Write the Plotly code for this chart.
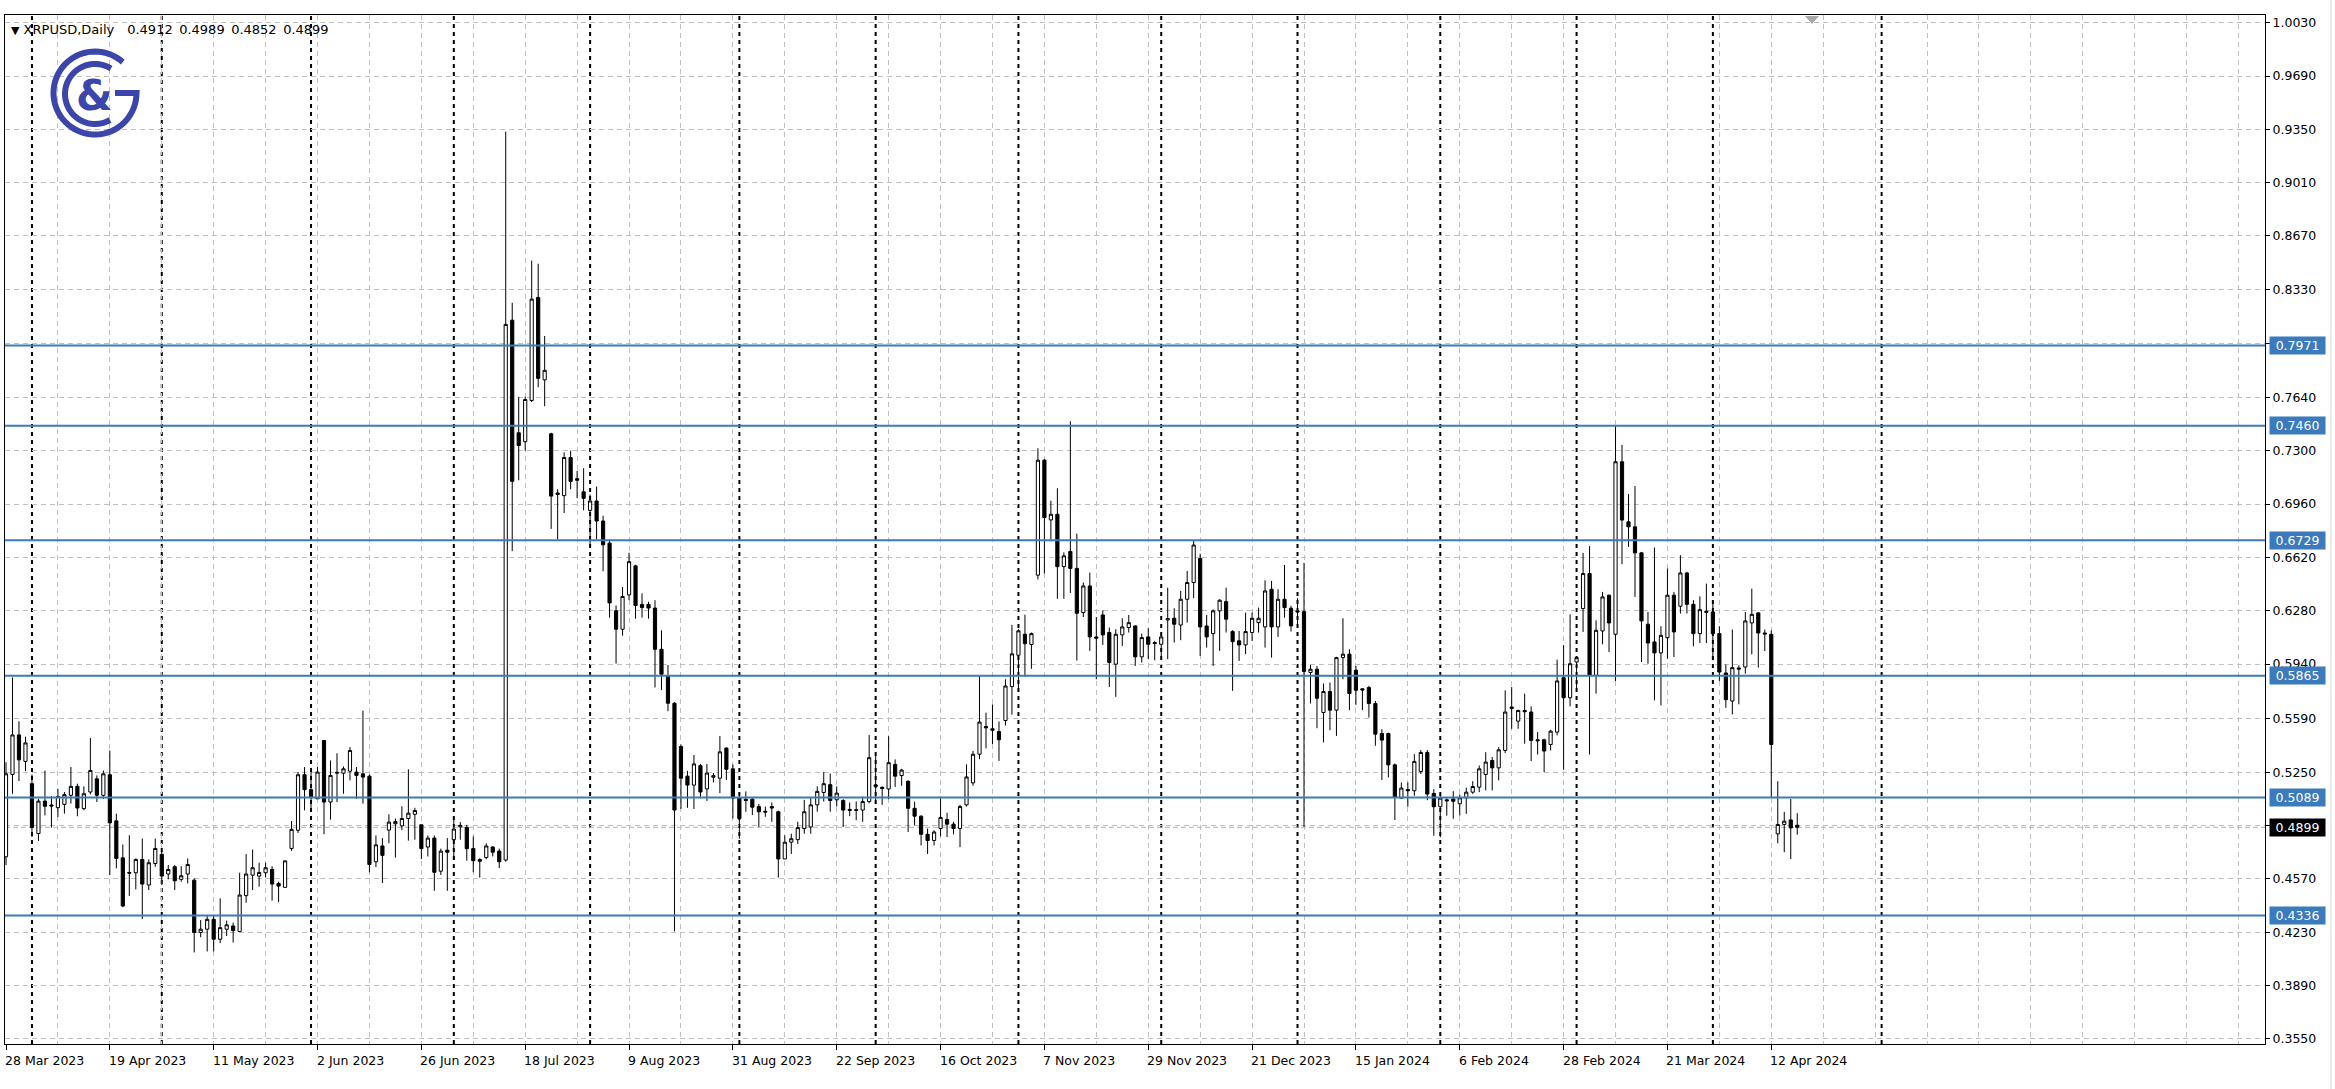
import math
import plotly.graph_objects as go

# ---------------- data (daily XRPUSD, weekday bars) ----------------
bar_index = list(range(277))

opens = [
.4711,.5236,.5488,.5319,.5177,.4859,.5066,.5041,.5024,.5045,
.5103,.5160,.5018,.5124,.5208,.5103,.5234,.4940,.4704,.4611,
.4609,.4694,.4531,.4668,.4726,.4601,.4647,.4567,.4601,.4562,
.4228,.4249,.4312,.4185,.4249,.4270,.4234,.4463,.4594,.4588,
.4609,.4630,.4541,.4516,.4764,.4880,.5234,.5139,.5081,.5452,
.5060,.5244,.5244,.5257,.5251,.5240,.5225,.4679,.4780,.4881,
.4922,.4908,.4955,.4982,.4915,.4773,.4830,.4619,.4753,.4820,
.4902,.4898,.4763,.4693,.4706,.4773,.4747,.4690,.8133,.7415,
.7358,.7621,.8278,.7752,.7408,.7031,.7014,.7257,.7122,.7038,
.6920,.6980,.6852,.6711,.6280,.6162,.6381,.6566,.6320,.6320,
.6297,.6034,.5865,.5690,.5414,.5225,.5168,.5292,.5144,.5218,
.5212,.5404,.5272,.5085,.5078,.5078,.5031,.5001,.5031,.4998,
.4697,.4804,.4820,.4891,.4901,.5042,.5121,.5171,.5074,.5070,
.5013,.5011,.5009,.5063,.5169,.5154,.5143,.5300,.5229,.5192,
.5020,.4970,.4854,.4815,.4891,.4949,.4919,.4891,.5042,.5182,
.5365,.5542,.5527,.5509,.5580,.5796,.5996,.6130,.6065,.6507,
.7240,.6859,.6895,.6561,.6658,.6550,.6268,.6438,.6113,.6253,
.6141,.5939,.6126,.6173,.6183,.5986,.6113,.6077,.6066,.6221,
.6232,.6189,.6353,.6460,.6614,.6183,.6134,.6279,.6338,.6147,
.6088,.6062,.6141,.6204,.6177,.6417,.6177,.6353,.6296,.6279,
.6274,.5886,.5907,.5631,.5765,.5646,.5981,.6003,.5901,.5782,
.5790,.5688,.5497,.5497,.5297,.5085,.5140,.5132,.5255,.5376,
.5115,.5030,.5074,.5080,.5049,.5087,.5123,.5155,.5236,.5325,
.5278,.5389,.5666,.5576,.5644,.5634,.5457,.5457,.5427,.5506,
.5853,.5725,.5953,.6294,.6517,.5868,.6151,.6379,.6130,.7230,
.6847,.6815,.6649,.6194,.6081,.6011,.6108,.6379,.6309,.6521,
.6321,.6134,.6277,.6272,.6134,.5883,.5704,.5915,.5921,.6202,
.6266,.6138,.6130,.4857,.4917,.4946,.4912]

highs = [
.5314,.5854,.5575,.5477,.5236,.5081,.5261,.5098,.5145,.5124,
.5283,.5177,.5160,.5469,.5230,.5261,.5389,.4986,.4789,.4848,
.4700,.4827,.4694,.4827,.4742,.4658,.4658,.4651,.4700,.4573,
.4308,.4340,.4340,.4446,.4304,.4291,.4609,.4728,.4757,.4673,
.4673,.4651,.4552,.4685,.4939,.5251,.5283,.5278,.5283,.5456,
.5325,.5371,.5287,.5410,.5283,.5643,.5235,.4847,.4830,.4982,
.4955,.5033,.5269,.5023,.4915,.4847,.4847,.4763,.4830,.4955,
.4932,.4915,.4841,.4702,.4797,.4780,.4763,.9335,.8244,.7644,
.7644,.8513,.8493,.8032,.7415,.7055,.7290,.7301,.7172,.7189,
.7021,.7072,.6886,.6734,.6313,.6431,.6650,.6573,.6391,.6337,
.6347,.6155,.5933,.5697,.5427,.5259,.5360,.5303,.5303,.5245,
.5481,.5408,.5300,.5117,.5128,.5091,.5048,.5031,.5057,.5005,
.4847,.4858,.4934,.5074,.5085,.5160,.5251,.5242,.5160,.5078,
.5057,.5063,.5095,.5488,.5354,.5160,.5480,.5332,.5272,.5199,
.5063,.4975,.4891,.4880,.5095,.4992,.4934,.5042,.5300,.5386,
.5865,.5630,.5682,.5574,.5843,.6190,.6162,.6255,.6141,.7316,
.7247,.6981,.7061,.6652,.7488,.6772,.6460,.6523,.6240,.6283,
.6173,.6162,.6232,.6253,.6187,.6134,.6168,.6088,.6134,.6427,
.6296,.6406,.6534,.6729,.6644,.6253,.6289,.6353,.6427,.6156,
.6151,.6268,.6268,.6300,.6474,.6470,.6417,.6572,.6311,.6360,
.6585,.5935,.5928,.5816,.5822,.5986,.6232,.6034,.5928,.5786,
.5801,.5705,.5525,.5503,.5306,.5185,.5185,.5365,.5391,.5391,
.5142,.5100,.5085,.5129,.5108,.5151,.5193,.5293,.5378,.5347,
.5410,.5772,.5793,.5649,.5751,.5670,.5506,.5464,.5521,.5968,
.6060,.6257,.5989,.6649,.6692,.6219,.6400,.6383,.7458,.7337,
.7024,.7075,.6655,.6272,.6683,.6181,.6549,.6400,.6634,.6528,
.6347,.6372,.6453,.6336,.6181,.5938,.6160,.5932,.6272,.6421,
.6272,.6160,.6155,.5193,.4997,.5080,.4989]

lows = [
.4658,.5113,.5194,.5257,.4838,.4812,.4975,.4897,.4965,.4986,
.5050,.4969,.5007,.5109,.5060,.5081,.4594,.4637,.4389,.4461,
.4503,.4313,.4499,.4647,.4531,.4567,.4499,.4552,.4541,.4101,
.4198,.4107,.4107,.4160,.4206,.4164,.4234,.4418,.4499,.4520,
.4579,.4431,.4421,.4516,.4749,.4863,.5007,.5007,.5081,.4855,
.4948,.5060,.5113,.5198,.5081,.5050,.4612,.4645,.4544,.4797,
.4706,.4881,.4814,.4820,.4696,.4713,.4494,.4595,.4494,.4696,
.4820,.4686,.4612,.4578,.4696,.4713,.4639,.4679,.6660,.7112,
.7301,.7611,.7705,.7584,.6802,.6734,.6903,.7055,.6997,.6920,
.6701,.6734,.6532,.6236,.5943,.6121,.6347,.6229,.6236,.6229,
.5791,.5774,.5639,.4235,.5016,.5023,.5016,.5084,.5067,.5185,
.5117,.5201,.4955,.4826,.4998,.4977,.4901,.4966,.4934,.4578,
.4697,.4729,.4793,.4858,.4858,.4998,.5063,.4998,.5031,.4901,
.4970,.4944,.4934,.5052,.5052,.5042,.5078,.5156,.5164,.4869,
.4912,.4783,.4729,.4783,.4841,.4837,.4854,.4772,.5031,.5164,
.5333,.5402,.5430,.5322,.5548,.5617,.5768,.5860,.5910,.6479,
.6518,.6723,.6356,.6356,.6393,.5962,.6240,.6024,.5843,.6062,
.5794,.5731,.6056,.6141,.5928,.5950,.5971,.5964,.5986,.5971,
.6077,.6092,.6204,.6360,.5992,.6045,.5928,.6024,.6141,.5769,
.5960,.6003,.6088,.6141,.6045,.5981,.6113,.6236,.6147,.6183,
.4902,.5688,.5531,.5440,.5518,.5482,.5843,.5646,.5680,.5646,
.5599,.5419,.5200,.5217,.4945,.5085,.5030,.5100,.5238,.5072,
.4845,.4835,.4973,.4953,.4974,.4985,.5112,.5123,.5134,.5134,
.5198,.5372,.5527,.5527,.5432,.5321,.5363,.5251,.5389,.5485,
.5266,.5670,.5772,.6145,.5363,.5751,.6066,.6017,.5832,.6577,
.6687,.6368,.5953,.5942,.5708,.5676,.5974,.5985,.6262,.6262,
.6053,.6074,.6074,.5964,.5832,.5661,.5619,.5683,.5879,.6002,
.5917,.6023,.5087,.4797,.4740,.4697,.4852]

closes = [
.5240,.5488,.5329,.5437,.4897,.5066,.5033,.5035,.5096,.5107,
.5160,.5022,.5113,.5261,.5103,.5240,.4927,.4700,.4397,.4607,
.4694,.4537,.4673,.4764,.4588,.4630,.4558,.4590,.4662,.4228,
.4249,.4312,.4185,.4259,.4277,.4240,.4467,.4601,.4641,.4611,
.4641,.4537,.4524,.4685,.4886,.5234,.5139,.5088,.5251,.5060,
.5230,.5249,.5272,.5389,.5230,.5219,.4662,.4787,.4720,.4932,
.4935,.4955,.4989,.5006,.4763,.4830,.4612,.4747,.4740,.4888,
.4911,.4763,.4686,.4683,.4780,.4740,.4679,.8106,.7105,.7334,
.7627,.8267,.7762,.7813,.7011,.7021,.7257,.7105,.7112,.6997,
.6980,.6852,.6701,.6330,.6162,.6371,.6593,.6313,.6300,.6297,
.6034,.5875,.5690,.5009,.5212,.5168,.5303,.5124,.5245,.5228,
.5380,.5269,.5085,.4955,.5070,.5027,.4998,.4996,.5022,.4697,
.4804,.4826,.4897,.4998,.5042,.5128,.5177,.5070,.5117,.5009,
.5007,.5007,.5063,.5343,.5160,.5147,.5311,.5225,.5264,.5020,
.4970,.4854,.4815,.4869,.4962,.4919,.4891,.5031,.5220,.5365,
.5570,.5533,.5518,.5457,.5800,.6005,.6152,.6070,.6134,.7240,
.6874,.6895,.6561,.6630,.6550,.6264,.6438,.6113,.6105,.6126,
.5950,.6130,.6177,.6204,.5986,.6109,.6066,.6071,.6113,.6230,
.6194,.6353,.6460,.6699,.6177,.6113,.6279,.6347,.6226,.6083,
.6062,.6147,.6232,.6232,.6406,.6177,.6353,.6300,.6183,.6272,
.5892,.5907,.5722,.5765,.5646,.5981,.6003,.5752,.5773,.5775,
.5688,.5493,.5455,.5297,.5089,.5149,.5132,.5319,.5376,.5111,
.5030,.5085,.5068,.5065,.5087,.5123,.5159,.5272,.5315,.5278,
.5393,.5634,.5657,.5644,.5636,.5453,.5451,.5385,.5512,.5832,
.5725,.5942,.5981,.6517,.5868,.6155,.6368,.6202,.7230,.6858,
.6815,.6649,.6215,.6074,.6011,.6123,.6379,.6145,.6521,.6321,
.6134,.6287,.6270,.6134,.5889,.5713,.5917,.5908,.6215,.6257,
.6138,.6132,.5427,.4917,.4938,.4895,.4899]

# x-axis labels (bar positions) and grid
tick_bars = [0, 16, 32, 48, 64, 80, 96, 112, 128, 144, 160, 176, 192, 208, 224, 240, 256, 272]
tick_labels = ["28 Mar 2023", "19 Apr 2023", "11 May 2023", "2 Jun 2023", "26 Jun 2023",
               "18 Jul 2023", "9 Aug 2023", "31 Aug 2023", "22 Sep 2023", "16 Oct 2023",
               "7 Nov 2023", "29 Nov 2023", "21 Dec 2023", "15 Jan 2024", "6 Feb 2024",
               "28 Feb 2024", "21 Mar 2024", "12 Apr 2024"]
grid_bars = [8, 24, 40, 56, 72, 88, 104, 120, 136, 152, 168, 184, 200, 216, 232, 248, 264,
             280, 288, 296, 304, 312, 320, 328, 336, 344]
month_starts = [4, 24, 47, 69, 90, 113, 134, 156, 178, 199, 221, 242, 263, 289]

# price axis ticks
y_ticks = [0.3550, 0.3890, 0.4230, 0.4570, 0.4910, 0.5250, 0.5590, 0.5940, 0.6280, 0.6620,
           0.6960, 0.7300, 0.7640, 0.7985, 0.8330, 0.8670, 0.9010, 0.9350, 0.9690, 1.0030]
y_tick_text = ["0.3550", "0.3890", "0.4230", "0.4570", "0.4910", "0.5250", "0.5590", "0.5940",
               "0.6280", "0.6620", "0.6960", "0.7300", "0.7640", "0.7985", "0.8330", "0.8670",
               "0.9010", "0.9350", "0.9690", "1.0030"]

# horizontal levels
levels = [0.7971, 0.7460, 0.6729, 0.5865, 0.5089, 0.4336]
bid = 0.4899

# ---------------- styling ----------------
FONT = "DejaVu Sans"
GRID = "#c0c0c0"
BLUE = "#3b7abd"
LOGO = "#3c46aa"
L, R, T, B = 5, 2265, 15, 1044
W, H = R - L, B - T


def px(x):
    return (x - L) / W


def py(y):
    return (B - y) / H


fig = go.Figure()
fig.add_trace(go.Candlestick(
    x=bar_index, open=opens, high=highs, low=lows, close=closes,
    increasing=dict(line=dict(color="black", width=1), fillcolor="white"),
    decreasing=dict(line=dict(color="black", width=1), fillcolor="black"),
    whiskerwidth=0, hoverinfo="skip",
))

shapes = []
# monthly period separators
for m in month_starts:
    shapes.append(dict(type="line", xref="x", yref="paper", x0=m, x1=m, y0=0, y1=1,
                       line=dict(color="black", width=2, dash="4px,4px"), layer="below"))
# bid line
shapes.append(dict(type="line", xref="paper", yref="y", x0=0, x1=1, y0=bid, y1=bid,
                   line=dict(color="#b0b0b0", width=1, dash="5px,3px"), layer="below"))
# horizontal levels
for lv in levels:
    shapes.append(dict(type="line", xref="paper", yref="y", x0=0, x1=1, y0=lv, y1=lv,
                       line=dict(color=BLUE, width=2), layer="above"))


# logo: outer G and inner C arcs
def arc(cx, cy, r, a0, a1, n=60):
    pts = []
    for k in range(n + 1):
        a = math.radians(a0 + (a1 - a0) * k / n)
        pts.append((cx + r * math.cos(a), cy - r * math.sin(a)))
    return pts


outer = arc(95, 93, 41.5, 48, 360) + [(115, 93)]
inner = arc(95, 94, 30, 58, 300)
for pts in (outer, inner):
    path = "M " + " L ".join(f"{px(x):.5f},{py(y):.5f}" for x, y in pts)
    shapes.append(dict(type="path", xref="paper", yref="paper", path=path,
                       line=dict(color=LOGO, width=6)))

# shift marker triangle
tri = [(1805, 16), (1819, 16), (1812, 24)]
shapes.append(dict(type="path", xref="paper", yref="paper",
                   path="M " + " L ".join(f"{px(x):.5f},{py(y):.5f}" for x, y in tri) + " Z",
                   fillcolor="#a8a8a8", line=dict(width=0)))
# window edge line
shapes.append(dict(type="line", xref="paper", yref="paper", x0=px(2331), x1=px(2331),
                   y0=py(1089), y1=py(0), line=dict(color="#d8d8d8", width=1)))

annotations = []
# date labels (left aligned at tick like MT4)
for b, lab in zip(tick_bars, tick_labels):
    annotations.append(dict(x=b, y=0, xref="x", yref="paper", text=lab, showarrow=False,
                            xanchor="left", yanchor="top", xshift=-3, yshift=-7,
                            font=dict(family=FONT, size=12.5, color="black")))
# level labels
for lv in levels:
    annotations.append(dict(x=1, y=lv, xref="paper", yref="y", text=f"{lv:.4f}",
                            showarrow=False, xanchor="left", yanchor="middle", xshift=4,
                            width=55, height=17, bgcolor=BLUE, borderpad=0, align="center",
                            font=dict(family=FONT, size=12.5, color="white")))
annotations.append(dict(x=1, y=bid, xref="paper", yref="y", text=f"{bid:.4f}",
                        showarrow=False, xanchor="left", yanchor="middle", xshift=4,
                        width=55, height=17, bgcolor="black", borderpad=0, align="center",
                        font=dict(family=FONT, size=12.5, color="white")))
# title
EN = "\u2002"
title = ("<span style='font-size:11px'>▼</span> XRPUSD,Daily" + EN + EN +
         EN.join(f"{v:.4f}" for v in (opens[-1], highs[-1], lows[-1], closes[-1])))
annotations.append(dict(x=px(9), y=py(29), xref="paper", yref="paper", text=title,
                        showarrow=False, xanchor="left", yanchor="middle",
                        font=dict(family=FONT, size=13, color="black")))
# logo ampersand
annotations.append(dict(x=px(94), y=py(96), xref="paper", yref="paper", text="<b>&amp;</b>",
                        showarrow=False, xanchor="center", yanchor="middle",
                        font=dict(family=FONT, size=42, color=LOGO)))

fig.update_layout(
    width=2335, height=1089,
    margin=dict(l=L, r=2335 - R, t=T, b=1089 - B),
    paper_bgcolor="white", plot_bgcolor="white",
    showlegend=False, hovermode=False,
    font=dict(family=FONT, size=12.5, color="black"),
    shapes=shapes, annotations=annotations,
    xaxis=dict(
        range=[(L - 6) / 6.49, (R - 6) / 6.49],
        rangeslider=dict(visible=False),
        tickmode="array", tickvals=tick_bars, showticklabels=False,
        ticks="outside", ticklen=5, tickcolor="black",
        showgrid=True, gridcolor=GRID, griddash="5px,4px", gridwidth=1,
        minor=dict(tickmode="array", tickvals=grid_bars, showgrid=True, gridcolor=GRID,
                   griddash="5px,4px", gridwidth=1, ticks=""),
        showline=True, linecolor="black", linewidth=1, mirror=True, zeroline=False,
        fixedrange=True,
    ),
    yaxis=dict(
        side="right",
        range=[0.3517, 1.0079],
        tickmode="array", tickvals=y_ticks, ticktext=y_tick_text,
        ticks="outside", ticklen=4, tickcolor="black",
        tickfont=dict(family=FONT, size=12.5, color="black"),
        showgrid=True, gridcolor=GRID, griddash="5px,4px", gridwidth=1,
        showline=True, linecolor="black", linewidth=1, mirror=True, zeroline=False,
        fixedrange=True,
    ),
)

fig.write_html("out.html",
               config={"displayModeBar": False, "staticPlot": True},
               post_script="document.body.style.margin='0px';document.body.style.overflow='hidden';")
